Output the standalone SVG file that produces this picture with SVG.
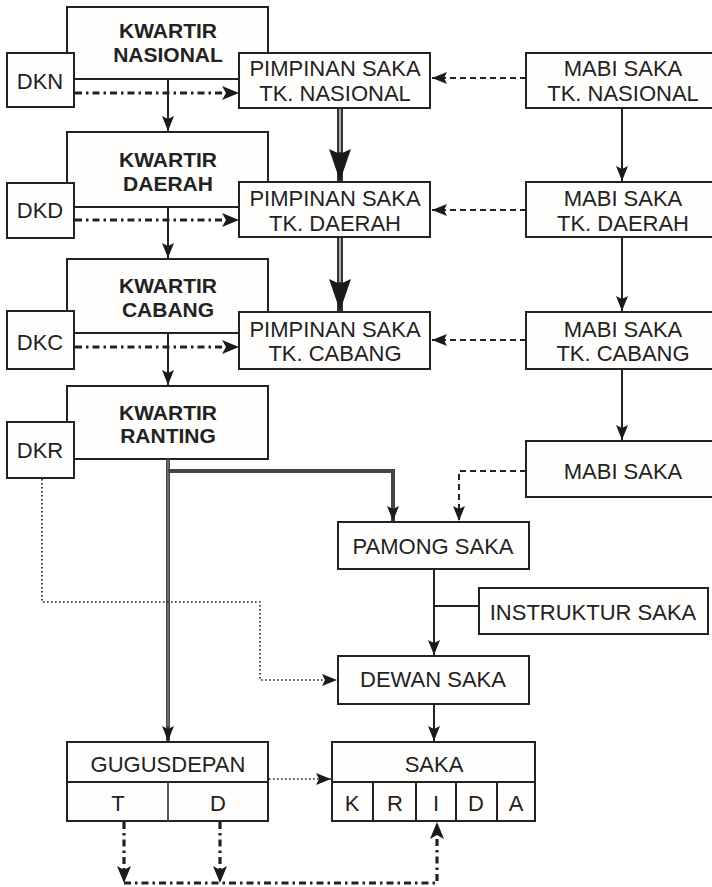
<svg xmlns="http://www.w3.org/2000/svg" width="712" height="887" viewBox="0 0 712 887">
<style>
.box{fill:#fffefc;stroke:#222;stroke-width:2}
.t{font-family:"Liberation Sans",Arial,sans-serif;font-size:22px;fill:#222;text-anchor:middle}
.b{font-family:"Liberation Sans",Arial,sans-serif;font-size:21px;font-weight:bold;fill:#222;text-anchor:middle}
.ln{fill:none;stroke:#222;stroke-width:2}
.dd{fill:none;stroke:#222;stroke-width:3.2;stroke-dasharray:7 4 2.5 4}
.da{fill:none;stroke:#222;stroke-width:2;stroke-dasharray:6 4}
.dt{fill:none;stroke:#222;stroke-width:1.6;stroke-dasharray:1.6 2.4}
.thk{fill:none;stroke:#333;stroke-width:6}
.thi{fill:none;stroke:#aaa;stroke-width:2}
.gk{fill:none;stroke:#444;stroke-width:4}
.gi{fill:none;stroke:#888;stroke-width:1.2}
</style>
<defs>
<marker id="a" markerUnits="userSpaceOnUse" markerWidth="15" markerHeight="12" refX="15" refY="6" orient="auto">
<path d="M0,0 L15,6 L0,12 L3,6 z" fill="#1a1a1a"/>
</marker>
<marker id="big" markerUnits="userSpaceOnUse" markerWidth="32" markerHeight="22" refX="32" refY="11" orient="auto">
<path d="M0,0 L32,11 L0,22 L5,11 z" fill="#1a1a1a"/>
</marker>
</defs>

<g id="kwartir-nasional"><rect class="box" x="67" y="7" width="201" height="72"/><text class="b" x="168" y="38">KWARTIR</text><text class="b" x="168" y="62">NASIONAL</text></g>
<g id="kwartir-daerah"><rect class="box" x="67" y="132" width="201" height="75"/><text class="b" x="168" y="167">KWARTIR</text><text class="b" x="168" y="191">DAERAH</text></g>
<g id="kwartir-cabang"><rect class="box" x="67" y="259" width="201" height="74"/><text class="b" x="168" y="293">KWARTIR</text><text class="b" x="168" y="317">CABANG</text></g>
<g id="kwartir-ranting"><rect class="box" x="67" y="386" width="201" height="73"/><text class="b" x="168" y="420">KWARTIR</text><text class="b" x="168" y="443">RANTING</text></g>

<g id="dkn"><rect class="box" x="7" y="53" width="67" height="54"/><text class="t" x="40" y="89">DKN</text></g>
<g id="dkd"><rect class="box" x="7" y="183" width="67" height="55"/><text class="t" x="40" y="218">DKD</text></g>
<g id="dkc"><rect class="box" x="7" y="311" width="67" height="58"/><text class="t" x="40" y="350">DKC</text></g>
<g id="dkr"><rect class="box" x="7" y="422" width="67" height="56"/><text class="t" x="40" y="458">DKR</text></g>

<g id="pimpinan-nasional"><rect class="box" x="239" y="53" width="191" height="55"/><text class="t" x="335" y="76">PIMPINAN SAKA</text><text class="t" x="335" y="101">TK. NASIONAL</text></g>
<g id="pimpinan-daerah"><rect class="box" x="239" y="182" width="191" height="55"/><text class="t" x="335" y="206">PIMPINAN SAKA</text><text class="t" x="335" y="231">TK. DAERAH</text></g>
<g id="pimpinan-cabang"><rect class="box" x="239" y="312" width="191" height="57"/><text class="t" x="335" y="337">PIMPINAN SAKA</text><text class="t" x="335" y="361">TK. CABANG</text></g>

<g id="mabi-nasional"><rect class="box" x="526" y="53" width="190" height="55"/><text class="t" x="623" y="76">MABI SAKA</text><text class="t" x="623" y="101">TK. NASIONAL</text></g>
<g id="mabi-daerah"><rect class="box" x="526" y="182" width="190" height="55"/><text class="t" x="623" y="206">MABI SAKA</text><text class="t" x="623" y="231">TK. DAERAH</text></g>
<g id="mabi-cabang"><rect class="box" x="526" y="312" width="190" height="57"/><text class="t" x="623" y="337">MABI SAKA</text><text class="t" x="623" y="361">TK. CABANG</text></g>
<g id="mabi-saka"><rect class="box" x="526" y="441" width="190" height="56"/><text class="t" x="623" y="479">MABI SAKA</text></g>

<g id="pamong-saka"><rect class="box" x="338" y="522" width="191" height="47"/><text class="t" x="433" y="554">PAMONG SAKA</text></g>
<g id="instruktur-saka"><rect class="box" x="479" y="588" width="229" height="46"/><text class="t" x="593" y="620">INSTRUKTUR SAKA</text></g>
<g id="dewan-saka"><rect class="box" x="338" y="656" width="191" height="48"/><text class="t" x="433" y="687">DEWAN SAKA</text></g>

<g id="gugusdepan"><rect class="box" x="67" y="742" width="201" height="79"/><line class="ln" x1="67" y1="782" x2="268" y2="782"/><line class="ln" x1="168" y1="782" x2="168" y2="821" style="stroke:#555"/><text class="t" x="168" y="772">GUGUSDEPAN</text><text class="t" x="118" y="811">T</text><text class="t" x="218" y="811">D</text></g>
<g id="saka"><rect class="box" x="332" y="742" width="203" height="79"/><line class="ln" x1="332" y1="782" x2="535" y2="782"/><line class="ln" x1="373" y1="782" x2="373" y2="821"/><line class="ln" x1="416" y1="782" x2="416" y2="821"/><line class="ln" x1="456" y1="782" x2="456" y2="821"/><line class="ln" x1="497" y1="782" x2="497" y2="821"/><text class="t" x="434" y="772">SAKA</text><text class="t" x="352" y="811">K</text><text class="t" x="395" y="811">R</text><text class="t" x="436" y="811">I</text><text class="t" x="476" y="811">D</text><text class="t" x="516" y="811">A</text></g>

<g id="connectors">
<path class="dd" d="M75,93 H227"/><path d="M239,93 l-17,-7 l4,7 l-4,7 z" fill="#1a1a1a"/>
<path class="dd" d="M75,220 H227"/><path d="M239,220 l-17,-7 l4,7 l-4,7 z" fill="#1a1a1a"/>
<path class="dd" d="M75,347 H227"/><path d="M239,347 l-17,-7 l4,7 l-4,7 z" fill="#1a1a1a"/>
<path class="ln" d="M168,79 V131" marker-end="url(#a)"/>
<path class="ln" d="M168,207 V258" marker-end="url(#a)"/>
<path class="ln" d="M168,333 V385" marker-end="url(#a)"/>
<path class="da" d="M526,78 H432" marker-end="url(#a)"/>
<path class="da" d="M526,210 H432" marker-end="url(#a)"/>
<path class="da" d="M526,340 H432" marker-end="url(#a)"/>
<path class="ln" d="M622,108 V181" marker-end="url(#a)"/>
<path class="ln" d="M622,237 V311" marker-end="url(#a)"/>
<path class="ln" d="M622,369 V440" marker-end="url(#a)"/>
<path class="thk" d="M340,109 V181" marker-end="url(#big)"/><path class="thi" d="M340,109 V152"/>
<path class="thk" d="M340,238 V311" marker-end="url(#big)"/><path class="thi" d="M340,238 V282"/>
<path class="gk" d="M168,459 V741" marker-end="url(#a)"/><path class="gi" d="M168,460 V726"/>
<path class="gk" d="M168,471 H393 V521" marker-end="url(#a)"/>
<path class="da" d="M526,471 H459 V521" marker-end="url(#a)"/>
<path class="ln" d="M434,569 V655" marker-end="url(#a)"/>
<path class="ln" d="M434,606 H479"/>
<path class="ln" d="M434,704 V741" marker-end="url(#a)"/>
<path class="dt" d="M42,479 V602 H260 V680 H337" marker-end="url(#a)"/>
<path class="dt" d="M269,779 H331" marker-end="url(#a)"/>
<path class="dd" d="M124,822 V870"/><path d="M124,883 l-7,-17 l7,4 l7,-4 z" fill="#1a1a1a"/>
<path class="dd" d="M220,822 V870"/><path d="M220,883 l-7,-17 l7,4 l7,-4 z" fill="#1a1a1a"/>
<path class="dd" d="M124,883 H437 V834"/><path d="M437,822 l-7,17 l7,-4 l7,4 z" fill="#1a1a1a"/>
</g>
</svg>
